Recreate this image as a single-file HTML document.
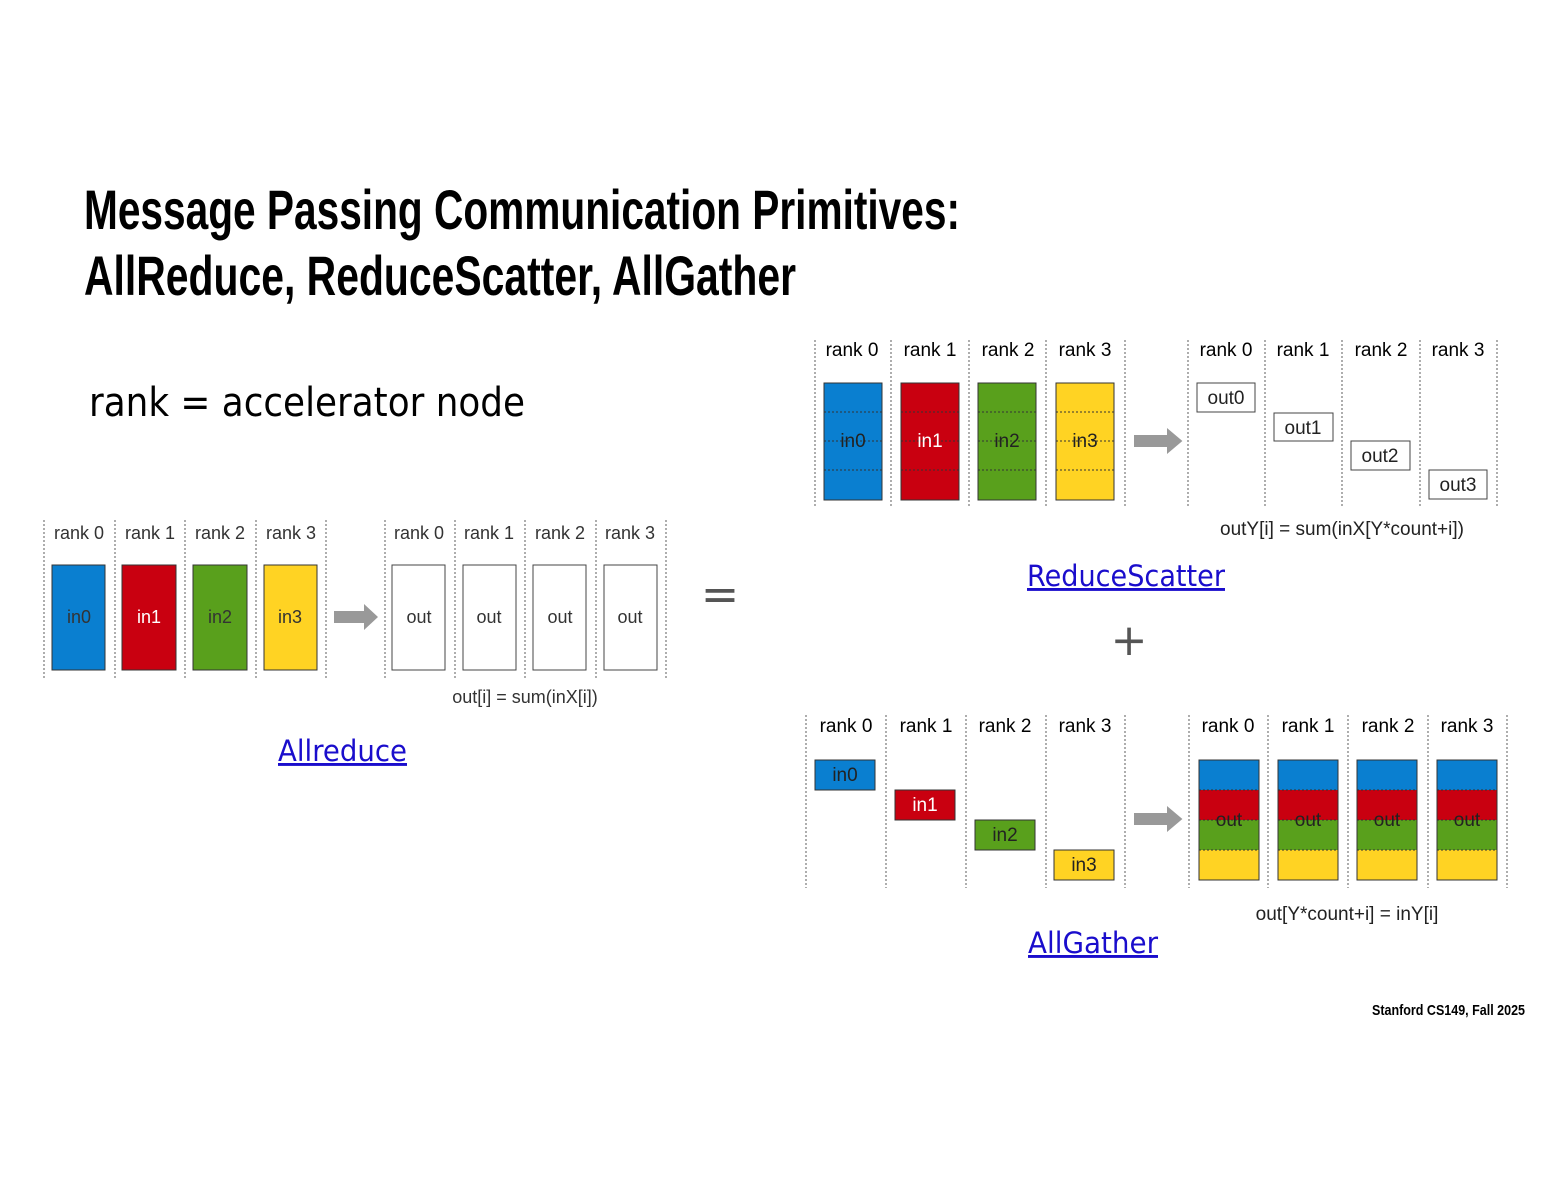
<!DOCTYPE html>
<html><head><meta charset="utf-8"><style>
html,body{margin:0;padding:0;background:#fff;}
svg{display:block;}
.r{font-family:"Liberation Sans Narrow","Liberation Sans",sans-serif;font-size:18px;fill:#333;text-anchor:middle;}
.b{font-family:"Liberation Sans Narrow","Liberation Sans",sans-serif;font-size:19px;text-anchor:middle;}
.dl{stroke:#777;stroke-width:1.2;stroke-dasharray:2 2;}
.lk{font-family:"DejaVu Sans","Liberation Sans",sans-serif;font-size:29px;fill:#1a0dcc;text-decoration:underline;}
</style></head><body>
<svg width="1553" height="1200" viewBox="0 0 1553 1200" xmlns="http://www.w3.org/2000/svg">
<defs>
<g id="arr"><polygon points="0,-6 30,-6 30,-13 44,0 30,13 30,6 0,6" fill="#999"/></g>
</defs>
<text x="84" y="229" font-family="Liberation Sans Narrow, Liberation Sans, sans-serif" font-weight="bold" font-size="56" textLength="876" lengthAdjust="spacingAndGlyphs" fill="#000">Message Passing Communication Primitives:</text>
<text x="84" y="295" font-family="Liberation Sans Narrow, Liberation Sans, sans-serif" font-weight="bold" font-size="56" textLength="712" lengthAdjust="spacingAndGlyphs" fill="#000">AllReduce, ReduceScatter, AllGather</text>
<text x="89" y="416" font-family="DejaVu Sans, Liberation Sans, sans-serif" font-size="40" textLength="436" lengthAdjust="spacingAndGlyphs" fill="#000">rank = accelerator node</text>

<!-- Allreduce -->
<g>
<line class="dl" x1="44" y1="520" x2="44" y2="678"/><line class="dl" x1="115" y1="520" x2="115" y2="678"/><line class="dl" x1="185" y1="520" x2="185" y2="678"/><line class="dl" x1="256" y1="520" x2="256" y2="678"/><line class="dl" x1="326" y1="520" x2="326" y2="678"/>
<line class="dl" x1="385" y1="520" x2="385" y2="678"/><line class="dl" x1="455" y1="520" x2="455" y2="678"/><line class="dl" x1="525" y1="520" x2="525" y2="678"/><line class="dl" x1="596" y1="520" x2="596" y2="678"/><line class="dl" x1="666" y1="520" x2="666" y2="678"/>
<text class="r" x="79" y="539">rank 0</text><text class="r" x="150" y="539">rank 1</text><text class="r" x="220" y="539">rank 2</text><text class="r" x="291" y="539">rank 3</text>
<text class="r" x="419" y="539">rank 0</text><text class="r" x="489" y="539">rank 1</text><text class="r" x="560" y="539">rank 2</text><text class="r" x="630" y="539">rank 3</text>
<rect x="52" y="565" width="53" height="105" fill="#0a7fd0" stroke="#333"/>
<rect x="122" y="565" width="54" height="105" fill="#c90010" stroke="#333"/>
<rect x="193" y="565" width="54" height="105" fill="#59a01c" stroke="#333"/>
<rect x="264" y="565" width="53" height="105" fill="#ffd323" stroke="#333"/>
<text class="r" x="79" y="623" fill="#222">in0</text><text class="r" x="149" y="623" style="fill:#fff">in1</text><text class="r" x="220" y="623">in2</text><text class="r" x="290" y="623">in3</text>
<use href="#arr" x="334" y="617"/>
<rect x="392" y="565" width="53" height="105" fill="#fff" stroke="#444"/>
<rect x="463" y="565" width="53" height="105" fill="#fff" stroke="#444"/>
<rect x="533" y="565" width="53" height="105" fill="#fff" stroke="#444"/>
<rect x="604" y="565" width="53" height="105" fill="#fff" stroke="#444"/>
<text class="r" x="419" y="623">out</text><text class="r" x="489" y="623">out</text><text class="r" x="560" y="623">out</text><text class="r" x="630" y="623">out</text>
<text class="r" x="525" y="703">out[i] = sum(inX[i])</text>
<text class="lk" x="278" y="761" textLength="129" lengthAdjust="spacingAndGlyphs">Allreduce</text>
</g>
<text x="720" y="610" font-family="DejaVu Sans, sans-serif" font-size="46" fill="#555" text-anchor="middle">=</text>

<!-- ReduceScatter -->
<g>
<line class="dl" x1="815" y1="340" x2="815" y2="508"/><line class="dl" x1="891" y1="340" x2="891" y2="508"/><line class="dl" x1="969" y1="340" x2="969" y2="508"/><line class="dl" x1="1046" y1="340" x2="1046" y2="508"/><line class="dl" x1="1125" y1="340" x2="1125" y2="508"/>
<line class="dl" x1="1188" y1="340" x2="1188" y2="508"/><line class="dl" x1="1265" y1="340" x2="1265" y2="508"/><line class="dl" x1="1342" y1="340" x2="1342" y2="508"/><line class="dl" x1="1420" y1="340" x2="1420" y2="508"/><line class="dl" x1="1497" y1="340" x2="1497" y2="508"/>
<text class="b" x="852" y="356">rank 0</text><text class="b" x="930" y="356">rank 1</text><text class="b" x="1008" y="356">rank 2</text><text class="b" x="1085" y="356">rank 3</text>
<text class="b" x="1226" y="356">rank 0</text><text class="b" x="1303" y="356">rank 1</text><text class="b" x="1381" y="356">rank 2</text><text class="b" x="1458" y="356">rank 3</text>
<rect x="824" y="383" width="58" height="117" fill="#0a7fd0" stroke="#333"/>
<rect x="901" y="383" width="58" height="117" fill="#c90010" stroke="#333"/>
<rect x="978" y="383" width="58" height="117" fill="#59a01c" stroke="#333"/>
<rect x="1056" y="383" width="58" height="117" fill="#ffd323" stroke="#333"/>
<g stroke="#333" stroke-dasharray="2 2" stroke-width="1">
<line x1="824" y1="412" x2="882" y2="412"/><line x1="824" y1="441" x2="882" y2="441"/><line x1="824" y1="470" x2="882" y2="470"/>
<line x1="901" y1="412" x2="959" y2="412"/><line x1="901" y1="441" x2="959" y2="441"/><line x1="901" y1="470" x2="959" y2="470"/>
<line x1="978" y1="412" x2="1036" y2="412"/><line x1="978" y1="441" x2="1036" y2="441"/><line x1="978" y1="470" x2="1036" y2="470"/>
<line x1="1056" y1="412" x2="1114" y2="412"/><line x1="1056" y1="441" x2="1114" y2="441"/><line x1="1056" y1="470" x2="1114" y2="470"/>
</g>
<text class="b" x="853" y="447" fill="#222">in0</text><text class="b" x="930" y="447" fill="#fff">in1</text><text class="b" x="1007" y="447" fill="#222">in2</text><text class="b" x="1085" y="447" fill="#222">in3</text>
<use href="#arr" x="1134" y="441" transform="translate(1134 441) scale(1.1 1) translate(-1134 -441)"/>
<rect x="1197" y="383" width="58" height="29" fill="#fff" stroke="#444"/>
<rect x="1274" y="413" width="59" height="28" fill="#fff" stroke="#444"/>
<rect x="1351" y="441" width="59" height="29" fill="#fff" stroke="#444"/>
<rect x="1429" y="470" width="58" height="29" fill="#fff" stroke="#444"/>
<text class="b" x="1226" y="404" fill="#222">out0</text><text class="b" x="1303" y="434" fill="#222">out1</text><text class="b" x="1380" y="462" fill="#222">out2</text><text class="b" x="1458" y="491" fill="#222">out3</text>
<text class="b" x="1342" y="535" fill="#222">outY[i] = sum(inX[Y*count+i])</text>
<text class="lk" x="1027" y="586" textLength="198" lengthAdjust="spacingAndGlyphs">ReduceScatter</text>
</g>
<text x="1129" y="655" font-family="DejaVu Sans, sans-serif" font-size="44" fill="#555" text-anchor="middle">+</text>

<!-- AllGather -->
<g>
<line class="dl" x1="806" y1="715" x2="806" y2="888"/><line class="dl" x1="886" y1="715" x2="886" y2="888"/><line class="dl" x1="966" y1="715" x2="966" y2="888"/><line class="dl" x1="1046" y1="715" x2="1046" y2="888"/><line class="dl" x1="1125" y1="715" x2="1125" y2="888"/>
<line class="dl" x1="1189" y1="715" x2="1189" y2="888"/><line class="dl" x1="1268" y1="715" x2="1268" y2="888"/><line class="dl" x1="1348" y1="715" x2="1348" y2="888"/><line class="dl" x1="1428" y1="715" x2="1428" y2="888"/><line class="dl" x1="1507" y1="715" x2="1507" y2="888"/>
<text class="b" x="846" y="732">rank 0</text><text class="b" x="926" y="732">rank 1</text><text class="b" x="1005" y="732">rank 2</text><text class="b" x="1085" y="732">rank 3</text>
<text class="b" x="1228" y="732">rank 0</text><text class="b" x="1308" y="732">rank 1</text><text class="b" x="1388" y="732">rank 2</text><text class="b" x="1467" y="732">rank 3</text>
<rect x="815" y="760" width="60" height="30" fill="#0a7fd0" stroke="#333"/>
<rect x="895" y="790" width="60" height="30" fill="#c90010" stroke="#333"/>
<rect x="975" y="820" width="60" height="30" fill="#59a01c" stroke="#333"/>
<rect x="1054" y="850" width="60" height="30" fill="#ffd323" stroke="#333"/>
<text class="b" x="845" y="781" fill="#222">in0</text><text class="b" x="925" y="811" fill="#fff">in1</text><text class="b" x="1005" y="841" fill="#222">in2</text><text class="b" x="1084" y="871" fill="#222">in3</text>
<use href="#arr" transform="translate(1134 819) scale(1.1 1)"/>
<g id="og">
<rect x="1199" y="760" width="60" height="30" fill="#0a7fd0"/>
<rect x="1199" y="790" width="60" height="30" fill="#c90010"/>
<rect x="1199" y="820" width="60" height="30" fill="#59a01c"/>
<rect x="1199" y="850" width="60" height="30" fill="#ffd323"/>
<g stroke="#333" stroke-dasharray="2 2"><line x1="1199" y1="790" x2="1259" y2="790"/><line x1="1199" y1="820" x2="1259" y2="820"/><line x1="1199" y1="850" x2="1259" y2="850"/></g>
<rect x="1199" y="760" width="60" height="120" fill="none" stroke="#333"/>
<text class="b" x="1229" y="826" fill="#222">out</text>
</g>
<use href="#og" x="79"/><use href="#og" x="158"/><use href="#og" x="238"/>
<text class="b" x="1347" y="920" fill="#222">out[Y*count+i] = inY[i]</text>
<text class="lk" x="1028" y="953" textLength="130" lengthAdjust="spacingAndGlyphs">AllGather</text>
</g>

<text x="1525" y="1015" text-anchor="end" font-family="Liberation Sans Narrow, Liberation Sans, sans-serif" font-weight="bold" font-size="15" textLength="153" lengthAdjust="spacingAndGlyphs" fill="#000">Stanford CS149, Fall 2025</text>
</svg>
</body></html>
